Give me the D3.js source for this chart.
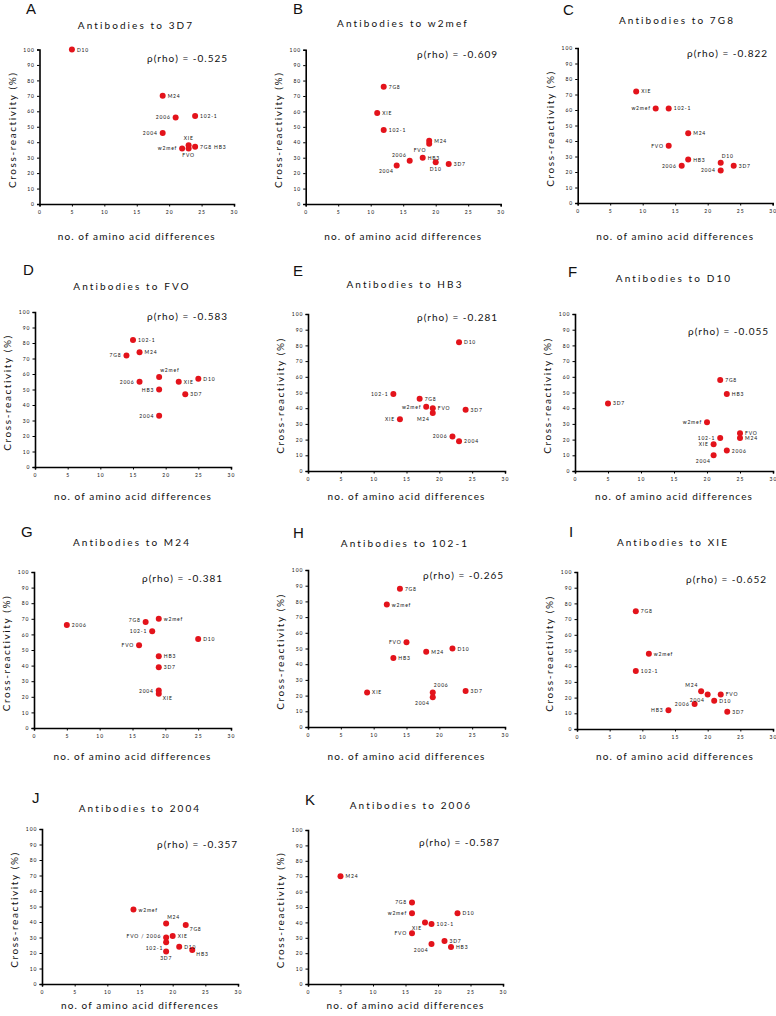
<!DOCTYPE html>
<html>
<head>
<meta charset="utf-8">
<script src="https://cdn.jsdelivr.net/npm/d3@7"></script>
<style>
  html, body { margin: 0; padding: 0; background: #fff; }
  svg { display: block; }
  text { font-family: Lato, "Open Sans", "DejaVu Sans", sans-serif; fill: #111; }
</style>
</head>
<body>
<svg id="chart" width="776" height="1016"></svg>
<script>
// ---------------- data ----------------
const panelLetters = ["A","B","C","D","E","F","G","H","I","J","K"];
const antigens = ["3D7","w2mef","7G8","FVO","HB3","D10","M24","102-1","XIE","2004","2006"];
const rhoValues = ["-0.525","-0.609","-0.822","-0.583","-0.281","-0.055","-0.381","-0.265","-0.652","-0.357","-0.587"];
const xTicks = [0,5,10,15,20,25,30];
const yTicks = [0,10,20,30,40,50,60,70,80,90,100];

const namesA = ["D10","M24","2006","102-1","2004","XIE","w2mef","FVO","7G8 HB3"];
const diffA  = [5,19,21,24,19,23,22,23,24];
const crossA = [100,70,56,57,46,38,36,36,37];

const namesB = ["7G8","XIE","102-1","M24","FVO","HB3","2006","D10","3D7","2004"];
const diffB  = [12,11,12,19,19,18,16,20,22,14];
const crossB = [76,59,48,41,39,30,28,27,26,25];

const namesC = ["XIE","w2mef","102-1","M24","FVO","HB3","2006","D10","3D7","2004"];
const diffC  = [9,12,14,17,14,17,16,22,24,22];
const crossC = [72,61,61,45,37,28,24,26,24,21];

const namesD = ["102-1","M24","7G8","w2mef","2006","XIE","D10","HB3","3D7","2004"];
const diffD  = [15,16,14,19,16,22,25,19,23,19];
const crossD = [82,74,72,58,55,55,57,50,47,33];

const namesE = ["D10","102-1","7G8","w2mef","FVO","M24","XIE","3D7","2006","2004"];
const diffE  = [23,13,17,18,19,19,14,24,22,23];
const crossE = [82,49,46,41,40,37,33,39,22,19];

const namesF = ["7G8","HB3","3D7","w2mef","FVO","M24","102-1","XIE","2006","2004"];
const diffF  = [22,23,5,20,25,25,22,21,23,21];
const crossF = [58,49,43,31,24,21,21,17,13,10];

const namesG = ["2006","7G8","w2mef","102-1","FVO","D10","HB3","3D7","2004","XIE"];
const diffG  = [5,17,19,18,16,25,19,19,19,19];
const crossG = [66,68,70,62,53,57,46,39,24,22];

const namesH = ["7G8","w2mef","FVO","M24","D10","HB3","XIE","2006","2004","3D7"];
const diffH  = [14,12,15,18,22,13,9,19,19,24];
const crossH = [88,78,54,48,50,44,22,22,19,23];

const namesI = ["7G8","w2mef","102-1","M24","2004","FVO","D10","2006","HB3","3D7"];
const diffI  = [9,11,9,19,20,22,21,18,14,23];
const crossI = [75,48,37,24,22,22,18,16,12,11];

const namesJ = ["w2mef","M24","7G8","FVO / 2006","XIE","102-1","D10","HB3","3D7"];
const diffJ  = [14,19,22,19,20,19,21,23,19];
const crossJ = [48,39,38,30,31,27,24,22,21];

const namesK = ["M24","7G8","w2mef","D10","XIE","102-1","FVO","3D7","HB3","2004"];
const diffK  = [5,16,16,23,18,19,16,21,22,19];
const crossK = [70,53,46,46,40,39,33,28,24,26];

// ---------------- label placement (layout only) ----------------
const placeA = ["r","r","l","r","l","t","l","b","r"];
const placeB = ["r","r","r","r","bl","r","tl","b","r","bl"];
const placeC = ["r","l","r","r","l","r","l","tr","r","l"];
const placeD = ["r","r","l","tr","l","r","r","l","r","l"];
const placeE = ["r","l","r","l","r","bl","l","r","l","r"];
const placeF = ["r","r","r","l","r","r","l","l","r","bl"];
const placeG = ["r","lu","r","l","l","r","r","r","l","br"];
const placeH = ["r","r","l","r","r","r","r","tr","bl","r"];
const placeI = ["r","r","r","tl","bl","r","r","l","l","r"];
const placeJ = ["r","tr","br","lu","r","bl","r","br","b"];
const placeK = ["r","l","l","r","bl","r","l","r","r","bl"];

const seriesNames = [namesA,namesB,namesC,namesD,namesE,namesF,namesG,namesH,namesI,namesJ,namesK];
const seriesDiff  = [diffA,diffB,diffC,diffD,diffE,diffF,diffG,diffH,diffI,diffJ,diffK];
const seriesCross = [crossA,crossB,crossC,crossD,crossE,crossF,crossG,crossH,crossI,crossJ,crossK];
const seriesPlace = [placeA,placeB,placeC,placeD,placeE,placeF,placeG,placeH,placeI,placeJ,placeK];

// ---------------- panel geometry ----------------
const layout = [
  {x0:39.5, x1:234,   yT:49.5, yB:204, lt:[26,14],  ti:[136,25],  rh:[147,58],  xl:33},
  {x0:305.7,x1:500.7, yT:49.7, yB:204, lt:[293,14], ti:[403,23],  rh:[417,54],  xl:33},
  {x0:577.7,x1:772.7, yT:48,   yB:203, lt:[563,15], ti:[677,20],  rh:[687,53],  xl:34},
  {x0:35,   x1:231,   yT:312,  yB:467, lt:[23,275], ti:[132,286], rh:[147,316], xl:30},
  {x0:308,  x1:505,   yT:314,  yB:471, lt:[293,276],ti:[405,284], rh:[417,317], xl:26},
  {x0:575,  x1:773,   yT:314,  yB:471, lt:[568,277],ti:[674,278], rh:[688,331], xl:26},
  {x0:34,   x1:231,   yT:572,  yB:728, lt:[21,537], ti:[132,542], rh:[142,578], xl:29},
  {x0:308,  x1:505,   yT:570,  yB:727, lt:[293,538],ti:[405,543], rh:[423,575], xl:30},
  {x0:577,  x1:773,   yT:572,  yB:729, lt:[569,537],ti:[673,542], rh:[686,579], xl:28},
  {x0:42,   x1:238,   yT:829,  yB:984, lt:[32,803], ti:[140,808], rh:[157,844], xl:22},
  {x0:308,  x1:503,   yT:830,  yB:984, lt:[305,805],ti:[411,805], rh:[419,842], xl:22}
];

const svg = d3.select("#chart");
const red = "#e3131b";

function labelPos(code, px, py) {
  switch (code) {
    case "l":  return {x:px-5, y:py+2, a:"end"};
    case "lu": return {x:px-5, y:py,   a:"end"};
    case "t":  return {x:px,   y:py-5, a:"middle"};
    case "b":  return {x:px,   y:py+9, a:"middle"};
    case "tr": return {x:px+1, y:py-5, a:"start"};
    case "tl": return {x:px-3, y:py-4, a:"end"};
    case "br": return {x:px+4, y:py+6, a:"start"};
    case "bl": return {x:px-3, y:py+8, a:"end"};
    default:   return {x:px+5, y:py+2, a:"start"};
  }
}

layout.forEach((L, i) => {
  const g = svg.append("g");
  const x = d3.scaleLinear().domain([0,30]).range([L.x0, L.x1]);
  const y = d3.scaleLinear().domain([0,100]).range([L.yB, L.yT]);

  // panel letter
  g.append("text").attr("x", L.lt[0]).attr("y", L.lt[1])
    .style("font-family", "'Liberation Sans', Arial, sans-serif")
    .style("font-size", "15px").text(panelLetters[i]);

  // title
  g.append("text").attr("x", L.ti[0]).attr("y", L.ti[1] + 3.5)
    .attr("text-anchor", "middle")
    .style("font-size", "10px").style("letter-spacing", "2.1px")
    .text("Antibodies to " + antigens[i]);

  // axes
  const xAxis = d3.axisBottom(x).tickValues(xTicks).tickSize(2.5).tickPadding(4);
  const yAxis = d3.axisLeft(y).tickValues(yTicks).tickSize(2.5).tickPadding(2);
  const gx = g.append("g").attr("transform", `translate(0,${L.yB})`).call(xAxis);
  const gy = g.append("g").attr("transform", `translate(${L.x0},0)`).call(yAxis);
  [gx, gy].forEach(a => {
    a.select(".domain").attr("stroke", "#000").attr("stroke-width", 1.6);
    a.selectAll(".tick line").attr("stroke", "#000").attr("stroke-width", 1);
    a.selectAll(".tick text").style("font-size", "5px").style("letter-spacing", "1px")
      .style("font-family", "Lato, sans-serif").attr("fill", "#222");
  });

  // axis titles
  g.append("text")
    .attr("x", (L.x0 + L.x1) / 2).attr("y", L.yB + L.xl + 3)
    .attr("text-anchor", "middle")
    .style("font-size", "10px").style("letter-spacing", "1.1px")
    .text("no. of amino acid differences");
  g.append("text")
    .attr("transform", `translate(${L.x0 - 24},${(L.yT + L.yB) / 2 + 3}) rotate(-90)`)
    .attr("text-anchor", "middle")
    .style("font-size", "10px").style("letter-spacing", "1.6px")
    .text("Cross-reactivity (%)");

  // rho
  g.append("text").attr("x", L.rh[0]).attr("y", L.rh[1] + 3.5)
    .style("font-size", "10px").style("letter-spacing", "1px")
    .text("\u03c1(rho) = " + rhoValues[i]);

  // points
  const pts = seriesNames[i].map((n, k) => ({
    name: n, dx: seriesDiff[i][k], cr: seriesCross[i][k], pl: seriesPlace[i][k]
  }));
  g.selectAll("circle.pt").data(pts).enter().append("circle")
    .attr("class", "pt")
    .attr("cx", d => x(d.dx)).attr("cy", d => y(d.cr))
    .attr("r", 3).attr("fill", red);
  g.selectAll("text.pl").data(pts).enter().append("text")
    .attr("class", "pl")
    .each(function(d) {
      const p = labelPos(d.pl, x(d.dx), y(d.cr));
      d3.select(this).attr("x", p.x).attr("y", p.y).attr("text-anchor", p.a);
    })
    .style("font-size", "5px").style("letter-spacing", "0.8px")
    .text(d => d.name);
});
</script>
</body>
</html>
